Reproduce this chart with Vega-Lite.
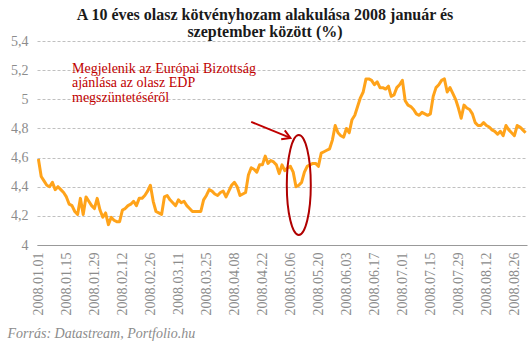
{
  "$schema": "https://vega.github.io/schema/vega-lite/v6.json",
  "width": 490,
  "height": 204,
  "autosize": {"type": "none"},
  "padding": {"left": 37, "top": 41, "right": 3, "bottom": 104},
  "background": "white",
  "config": {"view": {"stroke": null}, "font": "Liberation Serif"},
  "title": {
    "text": ["A 10 éves olasz kötvényhozam alakulása 2008 január és", "szeptember között (%)"],
    "font": "Liberation Serif",
    "fontSize": 16,
    "fontWeight": "bold",
    "color": "#1a1a1a",
    "lineHeight": 17,
    "anchor": "middle",
    "dx": -17,
    "offset": -6
  },
  "encoding": {
    "x": {
      "field": "d",
      "type": "ordinal",
      "scale": {"type": "point", "padding": 0.5},
      "title": "Forrás: Datastream, Portfolio.hu",
      "axis": {
        "values": ["2008.01.01","2008.01.15","2008.01.29","2008.02.12","2008.02.26","2008.03.11","2008.03.25","2008.04.08","2008.04.22","2008.05.06","2008.05.20","2008.06.03","2008.06.17","2008.07.01","2008.07.15","2008.07.29","2008.08.12","2008.08.26"],
        "labelAngle": -90,
        "labelFont": "Liberation Serif",
        "labelFontSize": 14,
        "labelColor": "#8c8c8c",
        "labelPadding": 7,
        "ticks": false,
        "grid": false,
        "domainColor": "#999999",
        "domainWidth": 1,
        "titleFont": "Liberation Serif",
        "titleFontSize": 14,
        "titleFontStyle": "italic",
        "titleFontWeight": "normal",
        "titleColor": "#8c8c8c",
        "titleAnchor": "start",
        "titleAlign": "left",
        "titleBaseline": "alphabetic",
        "titleX": -30,
        "titleY": 92
      }
    },
    "y": {
      "field": "v",
      "type": "quantitative",
      "scale": {"domain": [4, 5.4], "nice": false, "zero": false},
      "title": null,
      "axis": {
        "values": [4, 4.2, 4.4, 4.6, 4.8, 5, 5.2, 5.4],
        "labelExpr": "replace(format(datum.value, '~g'), '.', ',')",
        "labelFont": "Liberation Serif",
        "labelFontSize": 14,
        "labelColor": "#8c8c8c",
        "labelPadding": 9,
        "ticks": false,
        "domain": false,
        "grid": true,
        "gridColor": "#c0c0c0",
        "gridDash": [3, 2],
        "gridWidth": 1
      }
    }
  },
  "layer": [
    {
      "data": {"values": [
        {"d":"2008.01.01","v":4.59},{"d":"2008.01.02","v":4.47},{"d":"2008.01.03","v":4.44},{"d":"2008.01.04","v":4.41},
        {"d":"2008.01.07","v":4.40},{"d":"2008.01.08","v":4.43},{"d":"2008.01.09","v":4.38},{"d":"2008.01.10","v":4.40},{"d":"2008.01.11","v":4.38},
        {"d":"2008.01.14","v":4.36},{"d":"2008.01.15","v":4.33},{"d":"2008.01.16","v":4.28},{"d":"2008.01.17","v":4.27},{"d":"2008.01.18","v":4.23},
        {"d":"2008.01.21","v":4.21},{"d":"2008.01.22","v":4.32},{"d":"2008.01.23","v":4.21},{"d":"2008.01.24","v":4.33},{"d":"2008.01.25","v":4.30},
        {"d":"2008.01.28","v":4.27},{"d":"2008.01.29","v":4.25},{"d":"2008.01.30","v":4.32},{"d":"2008.01.31","v":4.24},
        {"d":"2008.02.01","v":4.19},
        {"d":"2008.02.04","v":4.22},{"d":"2008.02.05","v":4.14},{"d":"2008.02.06","v":4.19},{"d":"2008.02.07","v":4.17},{"d":"2008.02.08","v":4.16},
        {"d":"2008.02.11","v":4.16},{"d":"2008.02.12","v":4.24},{"d":"2008.02.13","v":4.25},{"d":"2008.02.14","v":4.27},{"d":"2008.02.15","v":4.28},
        {"d":"2008.02.18","v":4.30},{"d":"2008.02.19","v":4.27},{"d":"2008.02.20","v":4.32},{"d":"2008.02.21","v":4.32},{"d":"2008.02.22","v":4.34},
        {"d":"2008.02.25","v":4.37},{"d":"2008.02.26","v":4.41},{"d":"2008.02.27","v":4.30},{"d":"2008.02.28","v":4.23},{"d":"2008.02.29","v":4.22},
        {"d":"2008.03.03","v":4.21},{"d":"2008.03.04","v":4.33},{"d":"2008.03.05","v":4.34},{"d":"2008.03.06","v":4.31},{"d":"2008.03.07","v":4.29},
        {"d":"2008.03.10","v":4.27},{"d":"2008.03.11","v":4.31},{"d":"2008.03.12","v":4.29},{"d":"2008.03.13","v":4.30},{"d":"2008.03.14","v":4.27},
        {"d":"2008.03.17","v":4.25},{"d":"2008.03.18","v":4.23},{"d":"2008.03.19","v":4.23},{"d":"2008.03.20","v":4.23},{"d":"2008.03.21","v":4.23},
        {"d":"2008.03.24","v":4.31},{"d":"2008.03.25","v":4.34},{"d":"2008.03.26","v":4.38},{"d":"2008.03.27","v":4.37},{"d":"2008.03.28","v":4.35},
        {"d":"2008.03.31","v":4.34},
        {"d":"2008.04.01","v":4.36},{"d":"2008.04.02","v":4.37},{"d":"2008.04.03","v":4.33},{"d":"2008.04.04","v":4.37},
        {"d":"2008.04.07","v":4.41},{"d":"2008.04.08","v":4.43},{"d":"2008.04.09","v":4.40},{"d":"2008.04.10","v":4.34},{"d":"2008.04.11","v":4.35},
        {"d":"2008.04.14","v":4.36},{"d":"2008.04.15","v":4.48},{"d":"2008.04.16","v":4.53},{"d":"2008.04.17","v":4.52},{"d":"2008.04.18","v":4.50},
        {"d":"2008.04.21","v":4.55},{"d":"2008.04.22","v":4.55},{"d":"2008.04.23","v":4.61},{"d":"2008.04.24","v":4.56},{"d":"2008.04.25","v":4.58},
        {"d":"2008.04.28","v":4.57},{"d":"2008.04.29","v":4.55},{"d":"2008.04.30","v":4.49},
        {"d":"2008.05.01","v":4.55},{"d":"2008.05.02","v":4.51},
        {"d":"2008.05.05","v":4.53},{"d":"2008.05.06","v":4.54},{"d":"2008.05.07","v":4.50},{"d":"2008.05.08","v":4.40},{"d":"2008.05.09","v":4.41},
        {"d":"2008.05.12","v":4.43},{"d":"2008.05.13","v":4.50},{"d":"2008.05.14","v":4.54},{"d":"2008.05.15","v":4.55},{"d":"2008.05.16","v":4.56},
        {"d":"2008.05.19","v":4.56},{"d":"2008.05.20","v":4.54},{"d":"2008.05.21","v":4.63},{"d":"2008.05.22","v":4.64},{"d":"2008.05.23","v":4.65},
        {"d":"2008.05.26","v":4.66},{"d":"2008.05.27","v":4.72},{"d":"2008.05.28","v":4.82},{"d":"2008.05.29","v":4.77},{"d":"2008.05.30","v":4.75},
        {"d":"2008.06.02","v":4.74},{"d":"2008.06.03","v":4.80},{"d":"2008.06.04","v":4.77},{"d":"2008.06.05","v":4.86},{"d":"2008.06.06","v":4.89},
        {"d":"2008.06.09","v":4.95},{"d":"2008.06.10","v":5.01},{"d":"2008.06.11","v":5.05},{"d":"2008.06.12","v":5.14},{"d":"2008.06.13","v":5.14},
        {"d":"2008.06.16","v":5.13},{"d":"2008.06.17","v":5.10},{"d":"2008.06.18","v":5.12},{"d":"2008.06.19","v":5.08},{"d":"2008.06.20","v":5.08},
        {"d":"2008.06.23","v":5.07},{"d":"2008.06.24","v":5.09},{"d":"2008.06.25","v":5.02},{"d":"2008.06.26","v":5.03},{"d":"2008.06.27","v":5.08},
        {"d":"2008.06.30","v":5.10},
        {"d":"2008.07.01","v":5.13},{"d":"2008.07.02","v":4.99},{"d":"2008.07.03","v":4.96},{"d":"2008.07.04","v":4.95},
        {"d":"2008.07.07","v":4.93},{"d":"2008.07.08","v":4.90},{"d":"2008.07.09","v":4.89},{"d":"2008.07.10","v":4.91},{"d":"2008.07.11","v":4.90},
        {"d":"2008.07.14","v":4.89},{"d":"2008.07.15","v":4.90},{"d":"2008.07.16","v":5.02},{"d":"2008.07.17","v":5.08},{"d":"2008.07.18","v":5.10},
        {"d":"2008.07.21","v":5.13},{"d":"2008.07.22","v":5.14},{"d":"2008.07.23","v":5.05},{"d":"2008.07.24","v":5.08},{"d":"2008.07.25","v":5.04},
        {"d":"2008.07.28","v":5.00},{"d":"2008.07.29","v":4.94},{"d":"2008.07.30","v":4.87},{"d":"2008.07.31","v":4.96},
        {"d":"2008.08.01","v":4.94},
        {"d":"2008.08.04","v":4.93},{"d":"2008.08.05","v":4.90},{"d":"2008.08.06","v":4.84},{"d":"2008.08.07","v":4.82},{"d":"2008.08.08","v":4.82},
        {"d":"2008.08.11","v":4.84},{"d":"2008.08.12","v":4.82},{"d":"2008.08.13","v":4.81},{"d":"2008.08.14","v":4.79},{"d":"2008.08.15","v":4.78},
        {"d":"2008.08.18","v":4.76},{"d":"2008.08.19","v":4.78},{"d":"2008.08.20","v":4.75},{"d":"2008.08.21","v":4.82},{"d":"2008.08.22","v":4.79},
        {"d":"2008.08.25","v":4.77},{"d":"2008.08.26","v":4.75},{"d":"2008.08.27","v":4.82},{"d":"2008.08.28","v":4.81},{"d":"2008.08.29","v":4.79},
        {"d":"2008.09.01","v":4.77}
      ]},
      "mark": {"type": "line", "color": "#FFA31A", "strokeWidth": 3, "strokeJoin": "round"}
    },
    {
      "data": {"values": [{"d": "2008.04.16", "v": 4.845, "d2": "2008.05.06", "v2": 4.735}]},
      "mark": {"type": "rule", "color": "#C00000", "strokeWidth": 2},
      "encoding": {"x2": {"field": "d2"}, "y2": {"field": "v2"}}
    },
    {
      "data": {"values": [{"d": "2008.05.06", "v": 4.735}]},
      "mark": {"type": "point", "shape": "M-0.6,1L0,0L0.6,1", "filled": false, "stroke": "#C00000", "strokeWidth": 2, "size": 256, "angle": 112, "opacity": 1}
    },
    {
      "data": {"values": [{"d": "2008.05.09", "v": 4.412}]},
      "mark": {"type": "point", "shape": "M0,-1C0.1326,-1,0.24,-0.5523,0.24,0C0.24,0.5523,0.1326,1,0,1C-0.1326,1,-0.24,0.5523,-0.24,0C-0.24,-0.5523,-0.1326,-1,0,-1Z", "filled": false, "stroke": "#B00000", "strokeWidth": 2, "size": 10000, "opacity": 1}
    },
    {
      "data": {"values": [{"d": "2008.01.17", "v": 5.183, "t": "Megjelenik az Európai Bizottság\najánlása az olasz EDP\nmegszüntetéséről"}]},
      "mark": {"type": "text", "align": "left", "baseline": "alphabetic", "font": "Liberation Serif", "fontSize": 14, "lineHeight": 14.5, "color": "#C00000", "lineBreak": "\n"},
      "encoding": {"text": {"field": "t"}}
    }
  ]
}
